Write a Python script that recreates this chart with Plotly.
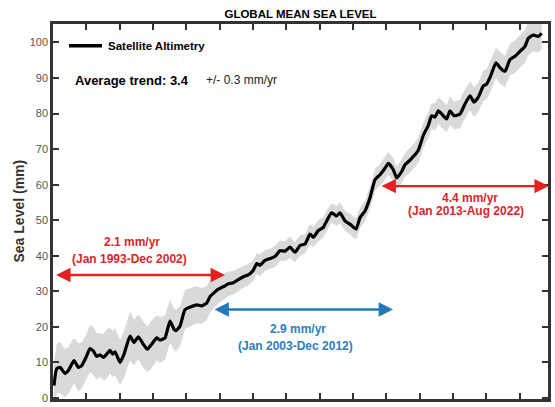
import numpy as np
import plotly.graph_objects as go

# ---- data ----
years = [1993.06, 1993.22, 1993.42, 1993.72, 1993.92, 1994.26, 1994.52, 1994.72, 1994.98, 1995.22,
         1995.42, 1995.62, 1995.82, 1996.02, 1996.22, 1996.42, 1996.58, 1996.72, 1997.02, 1997.26,
         1997.62, 1997.86, 1998.12, 1998.42, 1998.66, 1998.92, 1999.22, 1999.42, 1999.72, 2000.02,
         2000.26, 2000.38, 2000.62, 2000.92, 2001.32, 2001.62, 2001.92, 2002.22, 2002.42, 2002.62,
         2002.92, 2003.22, 2003.52, 2003.82, 2004.12, 2004.42, 2004.72, 2005.02, 2005.22, 2005.42,
         2005.72, 2006.02, 2006.32, 2006.62, 2006.92, 2007.22, 2007.52, 2007.82, 2008.12, 2008.42,
         2008.62, 2008.92, 2009.22, 2009.42, 2009.72, 2010.02, 2010.22, 2010.52, 2010.82, 2011.18,
         2011.42, 2011.72, 2012.02, 2012.32, 2012.62, 2012.92, 2013.12, 2013.42, 2013.62, 2013.92,
         2014.12, 2014.42, 2014.62, 2014.92, 2015.22, 2015.52, 2015.72, 2015.92, 2016.12, 2016.32,
         2016.62, 2016.82, 2017.06, 2017.42, 2017.72, 2018.02, 2018.26, 2018.52, 2018.82, 2019.02,
         2019.26, 2019.58, 2019.82, 2020.12, 2020.42, 2020.72, 2021.02, 2021.32, 2021.52, 2021.82,
         2022.12, 2022.32]

sea_level = [3.5, 8.2, 8.6, 6.9, 7.7, 10.5, 8.6, 9.1, 11.4, 13.9,
             13.2, 11.7, 12.1, 11.4, 12.3, 13.4, 12.3, 13.0, 10.0, 12.3,
             17.4, 15.6, 17.2, 15.1, 13.7, 15.1, 16.9, 16.3, 16.9, 21.6,
             19.3, 18.9, 20.2, 24.8, 25.7, 26.2, 25.9, 26.7, 28.5, 29.4,
             30.6, 31.3, 32.1, 32.4, 33.3, 34.1, 34.6, 35.9, 37.8, 37.3,
             38.7, 39.2, 39.8, 41.4, 41.3, 42.4, 41.0, 42.9, 43.3, 46.1,
             45.2, 47.1, 48.0, 49.8, 52.1, 51.2, 52.1, 49.8, 48.9, 47.5,
             50.7, 52.6, 56.3, 61.4, 62.8, 64.6, 66.0, 64.2, 61.9, 63.7,
             65.6, 66.9, 67.9, 69.7, 73.9, 76.7, 79.4, 79.0, 80.8, 79.9,
             78.5, 80.8, 79.4, 79.9, 82.7, 85.0, 83.2, 84.6, 87.8, 88.3,
             90.6, 94.3, 92.9, 91.9, 95.2, 96.1, 97.5, 98.9, 101.2, 102.1,
             101.7, 102.6]

uncertainty = [6.5, 7.0, 7.2, 6.8, 6.6, 6.4, 6.8, 6.5, 6.3, 6.6,
               6.8, 6.5, 6.2, 6.6, 6.9, 6.4, 6.5, 6.7, 6.3, 6.6,
               6.9, 6.5, 6.2, 6.6, 6.4, 6.7, 6.3, 6.5, 6.2, 6.0,
               5.8, 5.9, 5.6, 5.5, 5.4, 5.2, 5.0, 4.8, 4.6, 4.3,
               4.0, 3.7, 3.5, 3.3, 3.2, 3.1, 3.0, 3.0, 2.9, 3.1,
               2.9, 2.8, 3.0, 2.9, 2.8, 3.0, 2.8, 2.9, 2.7, 2.9,
               2.8, 3.0, 2.8, 2.9, 2.7, 2.8, 3.0, 2.8, 2.9, 3.0,
               2.8, 2.9, 3.0, 3.1, 3.0, 3.2, 3.2, 3.3, 3.2, 3.4,
               3.3, 3.5, 3.4, 3.6, 3.5, 3.7, 3.6, 3.8, 3.7, 3.9,
               3.8, 4.0, 3.9, 4.0, 4.1, 4.0, 4.2, 4.1, 4.3, 4.2,
               4.4, 4.3, 4.5, 4.4, 4.5, 4.6, 4.5, 4.6, 4.7, 4.6,
               4.5, 4.4]

trend_arrows = [  # (start year, end year, level, color)
    (1993.1, 2003.32, 34.6, "#e3211e"),
    (2002.6, 2013.4, 24.9, "#2378b8"),
    (2012.62, 2022.75, 59.6, "#e3211e"),
]
trend_labels = [  # (x, y, text, color)
    (1997.74, 43.8, "2.1 mm/yr", "#d9262b"),
    (1997.56, 39.1, "(Jan 1993-Dec 2002)", "#d9262b"),
    (2007.67, 19.3, "2.9 mm/yr", "#2e7dbd"),
    (2007.57, 14.7, "(Jan 2003-Dec 2012)", "#2e7dbd"),
    (2018.02, 56.3, "4.4 mm/yr", "#d9262b"),
    (2017.77, 52.6, "(Jan 2013-Aug 2022)", "#d9262b"),
]

x = np.array(years)
y = np.array(sea_level)
u = np.array(uncertainty)
upper = y + u
lower = y - u

FONT = "Arial, Liberation Sans, Helvetica, sans-serif"

fig = go.Figure()
fig.add_trace(go.Scatter(
    x=np.concatenate([x, x[::-1]]), y=np.concatenate([upper, lower[::-1]]),
    fill="toself", fillcolor="#d9d9d9", line=dict(width=0, color="#d9d9d9"),
    mode="lines", hoverinfo="skip", showlegend=False))
fig.add_trace(go.Scatter(x=x, y=y, mode="lines",
                         line=dict(color="black", width=3.2, shape="spline", smoothing=0.5),
                         showlegend=False))

annotations = []
for x0, x1, lvl, col in trend_arrows:
    annotations.append(dict(
        x=x1, y=lvl, ax=x0, ay=lvl, xref="x", yref="y", axref="x", ayref="y",
        text="", showarrow=True, arrowhead=2, arrowside="end+start",
        arrowsize=1.2, arrowwidth=2.4, arrowcolor=col, standoff=0, startstandoff=0))
for tx, ty, txt, col in trend_labels:
    annotations.append(dict(
        x=tx, y=ty, xref="x", yref="y", text="<b>" + txt + "</b>", showarrow=False,
        font=dict(family=FONT, size=12, color=col), xanchor="center", yanchor="middle"))

# legend & trend text
annotations.append(dict(x=1996.18, y=99.1, xref="x", yref="y", text="<b>Satellite Altimetry</b>",
                        showarrow=False, xanchor="left", yanchor="middle",
                        font=dict(family=FONT, size=11.5, color="black")))
annotations.append(dict(x=1994.2, y=89.4, xref="x", yref="y", text="<b>Average trend: 3.4</b>",
                        showarrow=False, xanchor="left", yanchor="middle",
                        font=dict(family=FONT, size=13, color="black")))
annotations.append(dict(x=2002.05, y=89.4, xref="x", yref="y", text="+/- 0.3 mm/yr",
                        showarrow=False, xanchor="left", yanchor="middle",
                        font=dict(family=FONT, size=12, color="#222")))
annotations.append(dict(x=-0.0707, y=0.5, xref="paper", yref="paper", text="<b>Sea Level (mm)</b>",
                        textangle=-90, showarrow=False, xanchor="center", yanchor="middle",
                        font=dict(family=FONT, size=14, color="#333")))

shapes = [dict(type="line", xref="x", yref="y", x0=1993.96, x1=1995.94, y0=99.1, y1=99.1,
               line=dict(color="black", width=3.5))]

axis_style = dict(showline=True, linewidth=2.5, linecolor="#333", mirror="ticks",
                  ticks="inside", ticklen=6, tickwidth=2, tickcolor="#333",
                  showgrid=False, zeroline=False)

fig.update_layout(
    width=555, height=407,
    margin=dict(l=53, r=7, t=24, b=3),
    plot_bgcolor="white", paper_bgcolor="white",
    title=dict(text="<b>GLOBAL MEAN SEA LEVEL</b>", x=0.5, xref="paper", xanchor="center",
               y=1 - 14 / 407, yanchor="middle", font=dict(family=FONT, size=11.5, color="black")),
    xaxis=dict(range=[1993, 2022.7], tick0=1993, dtick=2, showticklabels=False, **axis_style),
    yaxis=dict(range=[-0.3, 105.2], tick0=0, dtick=10, ticklabeloverflow="allow",
               tickfont=dict(family=FONT, size=11, color="#555"), **axis_style),
    annotations=annotations, shapes=shapes, showlegend=False,
)

fig.write_html("out.html", config={"displayModeBar": False},
               post_script="document.body.style.margin='0';document.body.style.overflow='hidden';")
